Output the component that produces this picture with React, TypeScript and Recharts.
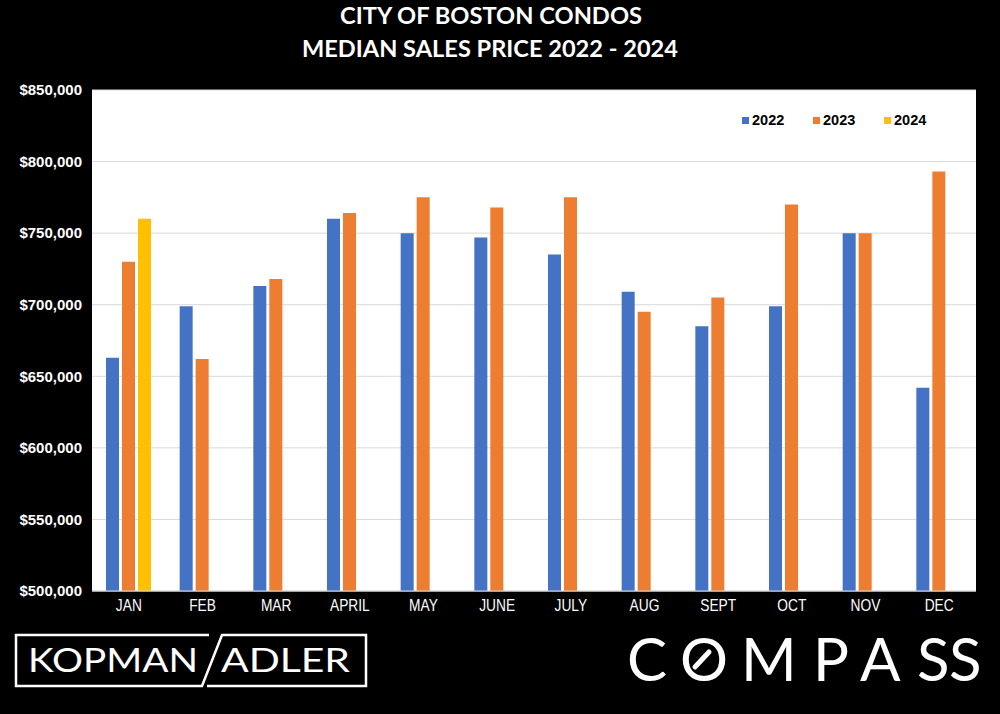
import { Bar, BarChart, CartesianGrid, Legend, XAxis, YAxis } from 'recharts';

const MONTHS = ['JAN', 'FEB', 'MAR', 'APRIL', 'MAY', 'JUNE', 'JULY', 'AUG', 'SEPT', 'OCT', 'NOV', 'DEC'];
const PRICES_2022 = [663000, 699000, 713000, 760000, 750000, 747000, 735000, 709000, 685000, 699000, 750000, 642000];
const PRICES_2023 = [730000, 662000, 718000, 764000, 775000, 768000, 775000, 695000, 705000, 770000, 750000, 793000];
const PRICES_2024 = [760000, null, null, null, null, null, null, null, null, null, null, null];
const Y_TICKS = [500000, 550000, 600000, 650000, 700000, 750000, 800000, 850000];

const data = MONTHS.map((month, i) => ({
  month,
  y2022: PRICES_2022[i],
  y2023: PRICES_2023[i],
  y2024: PRICES_2024[i],
}));

const TITLE_FONT = 'Lato, "Open Sans", sans-serif';
const AXIS_FONT = '"Liberation Sans", Arial, sans-serif';

function MonthTick({ x, y, payload }: any) {
  return (
    <g transform={`translate(${x},${y})`}>
      <text transform="scale(0.86,1)" textAnchor="middle" dy={12} fill="#fff" fontSize={16} fontFamily={AXIS_FONT}>
        {payload.value}
      </text>
    </g>
  );
}

function YearLegend({ payload }: any) {
  return (
    <div style={{ display: 'flex', fontFamily: AXIS_FONT, fontWeight: 700, fontSize: 14.5, color: '#000' }}>
      {(payload ?? []).map((item: any) => (
        <div key={item.value} style={{ width: 71, display: 'flex', alignItems: 'center' }}>
          <span style={{ width: 7, height: 7, background: item.color, marginRight: 3, display: 'inline-block' }} />
          <span>{item.value}</span>
        </div>
      ))}
    </div>
  );
}

const COMPASS_X = [627, 680, 741, 813, 860, 917, 949];

export default function App() {
  return (
    <div style={{ position: 'fixed', left: 0, top: 0, width: 1000, height: 714, background: '#000', overflow: 'hidden' }}>
      <BarChart
        width={1000}
        height={714}
        data={data}
        margin={{ top: 90, right: 24, bottom: 93, left: 0 }}
        barSize={13}
        barGap={3}
      >
        <CartesianGrid vertical={false} stroke="#D9D9D9" fill="#fff" />
        <XAxis
          dataKey="month"
          tick={<MonthTick />}
          tickLine={false}
          axisLine={{ stroke: '#D9D9D9' }}
          interval={0}
        />
        <YAxis
          width={92}
          domain={[500000, 850000]}
          ticks={Y_TICKS}
          tickLine={false}
          axisLine={false}
          tickMargin={4}
          tick={{ fill: '#fff', fontSize: 15, fontWeight: 700, fontFamily: AXIS_FONT }}
          tickFormatter={(v: number) => `$${v.toLocaleString('en-US')}`}
        />
        <Legend
          layout="vertical"
          align="center"
          verticalAlign="middle"
          content={<YearLegend />}
          wrapperStyle={{ top: 112, left: 742, width: 220, height: 18 }}
        />
        <Bar dataKey="y2022" name="2022" fill="#4472C4" isAnimationActive={false} />
        <Bar dataKey="y2023" name="2023" fill="#ED7D31" isAnimationActive={false} />
        <Bar dataKey="y2024" name="2024" fill="#FFC000" isAnimationActive={false} />
      </BarChart>

      <svg width={1000} height={714} style={{ position: 'absolute', left: 0, top: 0, pointerEvents: 'none' }}>
        <text x={491} y={24} textAnchor="middle" fill="#fff" fontFamily={TITLE_FONT} fontWeight={700} fontSize={22}
          textLength={302} lengthAdjust="spacingAndGlyphs">
          CITY OF BOSTON CONDOS
        </text>
        <text x={490} y={57} textAnchor="middle" fill="#fff" fontFamily={TITLE_FONT} fontWeight={700} fontSize={22}
          textLength={376} lengthAdjust="spacingAndGlyphs">
          MEDIAN SALES PRICE 2022 - 2024
        </text>

        <path d="M209,635 H16 V686 H202 L222,635 H366 V686 H207" fill="none" stroke="#fff" strokeWidth={2.5} />
        <text x={28} y={672} fill="#fff" fontFamily={TITLE_FONT} fontSize={33} textLength={170} lengthAdjust="spacingAndGlyphs">
          KOPMAN
        </text>
        <text x={221} y={672} fill="#fff" fontFamily={TITLE_FONT} fontSize={33} textLength={129} lengthAdjust="spacingAndGlyphs">
          ADLER
        </text>

        <text y={681} fill="#fff" fontFamily={TITLE_FONT} fontSize={60}>
          {'COMPASS'.split('').map((ch, i) => (
            <tspan key={i} x={COMPASS_X[i]}>{ch}</tspan>
          ))}
        </text>
        <line x1={695} y1={667} x2={709} y2={652} stroke="#fff" strokeWidth={5} strokeLinecap="round" />
      </svg>
    </div>
  );
}
